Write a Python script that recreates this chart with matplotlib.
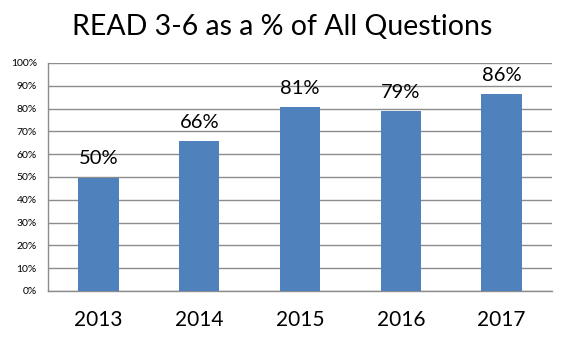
import matplotlib
matplotlib.use("Agg")
import matplotlib.pyplot as plt
from matplotlib.ticker import PercentFormatter, MultipleLocator

years = ["2013", "2014", "2015", "2016", "2017"]
shares = [0.497, 0.657, 0.808, 0.79, 0.862]
labels = ["50%", "66%", "81%", "79%", "86%"]

plt.rcParams["font.family"] = ["Lato", "DejaVu Sans"]

fig = plt.figure(figsize=(5.65, 3.42), dpi=100)
ax = fig.add_axes([48 / 565, 1 - 291 / 342, 504 / 565, 228 / 342])

x = range(len(years))
bars = ax.bar(x, shares, width=0.4, color="#4F81BD", zorder=3)
for b, lab in zip(bars, labels):
    ax.text(b.get_x() + b.get_width() / 2, b.get_height() + 0.045, lab,
            ha="center", va="bottom", fontsize=14.5, color="black")

ax.set_xlim(-0.5, len(years) - 0.5)
ax.set_ylim(0, 1)
ax.yaxis.set_major_locator(MultipleLocator(0.1))
ax.yaxis.set_major_formatter(PercentFormatter(1.0, decimals=0))
ax.set_xticks(list(x))
ax.set_xticklabels(years, fontsize=15)
ax.tick_params(axis="x", length=0, pad=14)
ax.tick_params(axis="y", length=0, labelsize=7.5, pad=8)
ax.grid(axis="y", color="#8c8c8c", linewidth=1, zorder=0)
for s in ["top", "right"]:
    ax.spines[s].set_visible(False)
for s in ["left", "bottom"]:
    ax.spines[s].set_color("#8c8c8c")
    ax.spines[s].set_linewidth(1)

fig.text(0.5, 1 - 27 / 342, "READ 3-6 as a % of All Questions", ha="center",
         va="center", fontsize=20.5)

fig.savefig("out.png", dpi=100)
